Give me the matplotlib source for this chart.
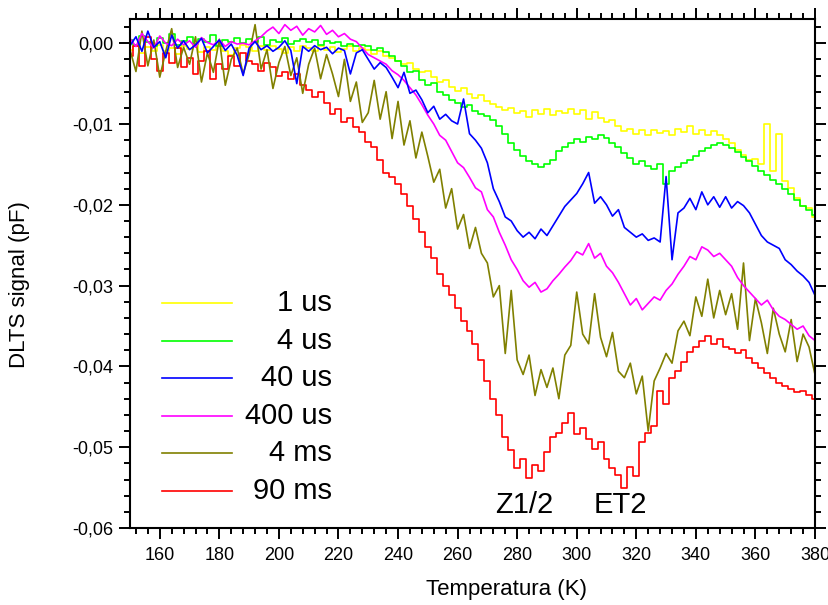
import matplotlib
matplotlib.use('Agg')
import matplotlib.pyplot as plt
from matplotlib.ticker import MultipleLocator, FuncFormatter
import numpy as np

plt.rcParams['font.family'] = ['Liberation Sans', 'DejaVu Sans']

# Temperatura (K), passo de 2 K
temp = [150, 152, 154, 156, 158, 160, 162, 164, 166, 168,
        170, 172, 174, 176, 178, 180, 182, 184, 186, 188,
        190, 192, 194, 196, 198, 200, 202, 204, 206, 208,
        210, 212, 214, 216, 218, 220, 222, 224, 226, 228,
        230, 232, 234, 236, 238, 240, 242, 244, 246, 248,
        250, 252, 254, 256, 258, 260, 262, 264, 266, 268,
        270, 272, 274, 276, 278, 280, 282, 284, 286, 288,
        290, 292, 294, 296, 298, 300, 302, 304, 306, 308,
        310, 312, 314, 316, 318, 320, 322, 324, 326, 328,
        330, 332, 334, 336, 338, 340, 342, 344, 346, 348,
        350, 352, 354, 356, 358, 360, 362, 364, 366, 368,
        370, 372, 374, 376, 378, 380]

# sinal DLTS em 10^-3 pF
s_1us = [-0.8, -0.3, -1.2, -0.5, -0.9, -0.2, -1.0, -0.6, -1.3, -0.4,
         -0.7, -0.2, -1.1, -0.5, -0.8, -0.3, -0.9, -1.4, -0.6, -0.2,
         -0.5, -1.0, -0.4, -0.8, -0.3, -0.7, -1.2, -0.5, -0.9, -0.4,
         -0.6, -1.0, -0.3, -0.8, -0.5, -1.1, -0.7, -0.4, -0.9, -0.6,
         -0.8, -1.3, -1.0, -1.6, -1.8, -2.2, -2.6, -2.5, -3.2, -3.6,
         -3.4, -4.2, -4.8, -4.6, -5.4, -5.9, -5.6, -6.3, -6.8, -6.4,
         -7.2, -7.5, -7.9, -8.3, -8.0, -8.6, -8.4, -9.1, -8.3, -8.7,
         -8.2, -8.9, -8.4, -8.6, -8.1, -8.8, -8.3, -9.4, -8.5, -9.2,
         -9.8, -9.5, -10.3, -10.9, -10.6, -11.2, -10.8, -11.4, -10.7, -11.1,
         -10.9, -11.3, -10.6, -11.0, -10.2, -11.2, -10.8, -11.4, -10.9, -11.3,
         -11.8, -12.4, -13.2, -13.8, -14.5, -14.3, -15.0, -10.0, -15.8, -11.2,
         -17.0, -17.9, -19.2, -20.2, -20.4, -21.5]

s_4us = [0.4, -0.2, 0.9, 0.1, -0.3, 0.6, 0.0, 1.2, -0.2, 0.3,
         0.8, -0.1, 0.5, 0.2, 1.0, -0.3, 0.4, 0.1, 0.7, 0.0,
         0.5, 0.2, 0.8, -0.2, 0.4, 0.1, 0.6, -0.1, 0.3, 0.5,
         0.1, 0.4, -0.2, 0.3, 0.0, 0.2, -0.4, -0.1, -0.3, -0.2,
         -0.4, -0.8, -0.6, -1.1, -1.6, -2.2, -2.8, -3.6, -3.4, -4.5,
         -5.2, -4.9, -6.0, -6.4, -7.0, -7.4, -7.9, -7.6, -8.4, -8.7,
         -9.0, -9.5, -10.3, -11.2, -12.4, -13.2, -14.0, -14.6, -15.0, -15.3,
         -15.0, -14.5, -13.4, -12.8, -12.4, -11.9, -12.2, -11.6, -11.9, -11.4,
         -11.7, -12.3, -12.9, -13.6, -14.2, -14.9, -14.6, -15.2, -15.6, -15.0,
         -17.4, -15.8, -15.3, -14.8, -14.5, -14.0, -13.4, -13.0, -12.6, -12.3,
         -12.6, -13.0, -13.5, -14.1, -14.6, -15.2, -15.8, -16.3, -16.9, -17.4,
         -18.0, -18.6, -19.4, -20.2, -20.6, -21.3]

s_40us = [-0.3, 0.8, -1.0, 1.5, -0.5, 0.2, -1.8, 1.0, -0.6, 0.3,
          -0.8, -0.2, 0.6, -1.2, -0.4, 0.4, -0.9, -0.1, -1.5, -4.0,
          -0.6, 0.2, -0.8, -0.3, -1.0, -0.5, 0.3, -0.9, -5.0, -0.4,
          -1.0, -0.3, -0.8, -0.5, -1.3, -0.6, -0.9, -3.8, -1.2, -0.8,
          -2.0, -3.2, -2.4, -3.0, -4.2, -5.5, -3.6, -6.2, -5.8, -7.0,
          -8.6, -7.8, -9.4, -8.8, -9.6, -10.0, -6.9, -11.2, -12.0, -13.0,
          -14.8, -18.0, -19.6, -21.5, -22.0, -23.2, -24.0, -23.4, -24.2, -23.0,
          -23.8, -22.6, -21.4, -20.2, -19.4, -18.6, -17.4, -16.0, -19.8, -19.0,
          -20.0, -21.4, -20.6, -22.8, -23.4, -24.0, -23.6, -24.4, -24.1, -24.6,
          -16.5, -26.8, -21.0, -20.4, -19.2, -20.6, -18.4, -20.0, -19.0, -20.3,
          -19.0, -20.4, -19.6, -20.1, -21.0, -22.4, -23.8, -24.6, -25.0, -25.4,
          -26.8, -27.4, -28.2, -28.8, -29.6, -31.2]

s_400us = [0.6, -0.4, 1.2, 0.2, -0.6, 0.9, 0.0, -0.3, 0.5, -0.2,
           0.3, -0.5, 0.7, 0.1, -0.2, 0.4, -0.4, 0.2, -0.1, 0.0,
           -0.2, 0.3, 0.8, 1.5, 2.0, 1.2, 2.3, 1.6, 2.1, 1.0,
           1.8, 1.4, 2.2, 1.1, 1.6, 0.8, 1.2, 0.5, 0.2, -0.6,
           -1.4, -1.8, -2.2, -2.6, -3.4, -3.9, -4.6, -5.5, -6.4, -7.6,
           -8.9, -10.0, -11.4, -12.0, -13.4, -14.8, -15.4, -16.6, -17.9, -18.4,
           -20.6, -21.5, -23.4, -25.0, -26.8, -28.0, -29.4, -30.2, -29.6, -30.8,
           -30.4, -29.4, -28.6, -27.7, -26.9, -25.8, -26.2, -24.8, -26.6, -26.0,
           -27.6, -28.4, -29.6, -31.0, -32.4, -31.6, -33.0, -32.2, -31.4, -31.8,
           -30.6, -29.8, -28.6, -27.6, -26.4, -26.8, -25.2, -25.6, -26.4, -26.0,
           -26.8, -27.6, -29.0, -30.0, -30.8, -31.6, -32.4, -31.8, -33.0, -33.8,
           -34.2, -34.8, -35.4, -35.0, -36.2, -36.8]

s_4ms = [-0.8, -3.5, 1.5, -2.8, 0.4, -4.2, -1.0, 1.8, -3.0, -0.5,
         -2.6, 0.8, -4.8, -1.2, -3.6, 0.5, -5.2, -2.0, -0.6, -3.8,
         -1.4, 2.3, -3.2, -0.8, -5.6, -2.4, -0.4, -4.0, -1.8, -6.2,
         -2.6, -0.6, -4.4, -1.4, -3.8, -6.6, -2.0, -7.2, -4.8, -9.8,
         -8.6, -4.6, -9.4, -6.0, -11.8, -7.2, -12.6, -9.6, -14.2, -11.0,
         -14.0, -17.2, -15.6, -20.4, -18.0, -23.0, -21.2, -25.4, -22.8, -26.0,
         -27.2, -31.4, -30.0, -38.4, -30.6, -39.2, -41.0, -38.6, -43.6, -40.4,
         -42.6, -40.2, -44.0, -38.6, -37.4, -30.8, -36.0, -37.2, -31.0, -36.4,
         -38.8, -35.8, -40.6, -41.4, -39.6, -43.4, -41.2, -48.0, -41.8, -40.2,
         -38.4, -39.6, -35.6, -34.4, -36.2, -31.4, -33.8, -29.2, -34.0, -30.6,
         -33.6, -31.0, -35.4, -27.2, -36.8, -31.6, -34.6, -38.4, -32.8, -36.0,
         -38.2, -34.2, -39.4, -36.0, -37.6, -41.0]

s_90ms = [-1.6, -0.4, -2.8, 0.8, -2.0, -3.4, -1.2, -2.4, -0.6, -3.0,
          -1.8, -3.8, -2.2, -1.0, -4.4, -2.6, -3.2, -1.6, -2.8, -1.2,
          -2.2, -2.6, -3.4, -2.4, -3.0, -4.0, -3.6, -4.4, -3.8, -5.2,
          -5.8, -6.6, -6.0, -7.4, -8.8, -8.2, -9.8, -9.2, -10.4, -11.0,
          -12.2, -12.8, -14.4, -16.0, -16.6, -17.4, -18.6, -20.2, -21.8, -23.4,
          -25.2, -26.6, -28.6, -30.0, -31.2, -32.8, -34.4, -35.6, -37.2, -39.2,
          -41.8, -44.0, -46.0, -48.8, -50.4, -52.6, -51.4, -53.8, -52.2, -53.0,
          -50.6, -48.8, -48.2, -47.0, -45.8, -48.4, -47.6, -49.0, -50.2, -49.4,
          -51.4, -52.6, -53.4, -55.0, -52.4, -53.6, -49.4, -48.2, -47.4, -43.0,
          -44.6, -41.4, -40.6, -39.4, -38.2, -37.6, -36.8, -36.2, -37.2, -36.6,
          -37.6, -37.8, -38.4, -38.0, -39.0, -39.6, -40.2, -40.8, -41.4, -42.0,
          -42.4, -42.8, -43.2, -43.0, -43.6, -44.0]

labels = ['1 us', '4 us', '40 us', '400 us', '4 ms', '90 ms']
colors = ['#ffff00', '#00ff00', '#0000ff', '#ff00ff', '#808000', '#ff0000']
series = [s_1us, s_4us, s_40us, s_400us, s_4ms, s_90ms]
steps = [True, True, False, False, False, True]

fig = plt.figure(figsize=(8.29, 6.05), dpi=100)
ax = fig.add_axes([0.1568, 0.1273, 0.8263, 0.8413])

# ordem de desenho: azul por cima
ordem = [0, 1, 5, 4, 3, 2]
for i in ordem:
    y = np.array(series[i]) / 1000.0
    ax.plot(temp, y, color=colors[i], lw=1.2,
            drawstyle='steps-mid' if steps[i] else 'default')

ax.set_xlim(150, 380)
ax.set_ylim(-0.06, 0.003)
ax.xaxis.set_major_locator(MultipleLocator(20))
ax.xaxis.set_minor_locator(MultipleLocator(4))
ax.yaxis.set_major_locator(MultipleLocator(0.01))
ax.yaxis.set_minor_locator(MultipleLocator(0.002))
ax.yaxis.set_major_formatter(FuncFormatter(
    lambda v, p: '0,00' if abs(v) < 1e-9 else f'{v:.2f}'.replace('.', ',')))

ax.tick_params(which='both', direction='out', top=True, right=True,
               width=1.4, labelsize=13)
ax.tick_params(which='major', length=8)
ax.tick_params(which='minor', length=4)
ax.tick_params(axis='x', pad=6)
ax.tick_params(axis='y', pad=4)
for sp in ax.spines.values():
    sp.set_linewidth(1.5)

# legenda feita à mão (texto alinhado à direita)
leg_y = [0.4415, 0.3680, 0.2941, 0.2206, 0.1468, 0.0733]
for i in range(6):
    ax.plot([0.0467, 0.149], [leg_y[i], leg_y[i]], color=colors[i], lw=1.2,
            transform=ax.transAxes)
    ax.text(0.2945, leg_y[i], labels[i], transform=ax.transAxes,
            ha='right', va='center', fontsize=21)

ax.text(282.4, -0.0571, 'Z1/2', ha='center', va='center', fontsize=21)
ax.text(314.6, -0.0571, 'ET2', ha='center', va='center', fontsize=21)

fig.text(507 / 829, 1 - 590 / 605, 'Temperatura (K)', ha='center', va='center',
         fontsize=16)
fig.text(20 / 829, 1 - 285 / 605, 'DLTS signal (pF)', ha='center', va='center',
         rotation=90, fontsize=16)

fig.savefig('out.png', dpi=100)
